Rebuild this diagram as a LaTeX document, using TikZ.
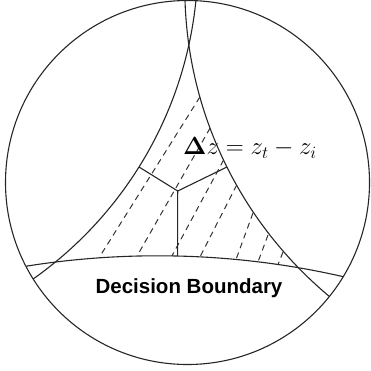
\documentclass[tikz,border=0pt]{standalone}
\usepackage{amsmath,amssymb}
\usepackage[no-math]{fontspec}
\newfontfamily\labelfont{Liberation Sans}
\usetikzlibrary{positioning}

\begin{document}
\begin{tikzpicture}[x=1pt, y=-1pt,
    geo/.style={draw=black!85, line width=1.1pt},
    hatch/.style={draw=black!80, line width=1pt, dash pattern=on 6pt off 4.5pt},
    lbl/.style={inner sep=0pt, font=\labelfont\bfseries\fontsize{20.5}{22}\selectfont},
    eq/.style={inner sep=0pt, font=\fontsize{25.5}{28}\selectfont}
]
\useasboundingbox (0,0) rectangle (370,371);
\coordinate (o) at (187.5,182.5);

% the three arcs, cut by the disk
\begin{scope}
  \clip (o) circle (182pt);
  \draw[geo] (-191.1,-38.9) circle (389pt);
  \draw[geo] (586.8,-12.3) circle (402pt);
  \draw[geo] (157.7,1083.5) circle (827.7pt);
\end{scope}
\draw[geo] (o) circle (182pt);

% hatching
\foreach \xa/\ya/\xb/\yb in {199.9/97/99/257.8, 210.1/128/137/256.1,
    223.6/160/172/255.9, 236.7/185/200/256.9, 253/213/236/259.5,
    268/235/258/261.9, 283/252/278/264.6}
  \draw[hatch] (\xa,\ya) -- (\xb,\yb);

% the Y
\coordinate (j) at (177.7,191);
\coordinate (jl) at (139,167);
\coordinate (jr) at (227,167);
\coordinate (jb) at (177.6,255.9);
\draw[geo] (jl) -- (j) -- (jr);
\draw[geo] (j) -- (jb);

\node[eq, anchor=base west] (dz) at (183,155) {$\mathbf{\Delta} z = z_t - z_i$};
\node[lbl, anchor=base] (db) at (189,293) {Decision Boundary};
\end{tikzpicture}
\end{document}
